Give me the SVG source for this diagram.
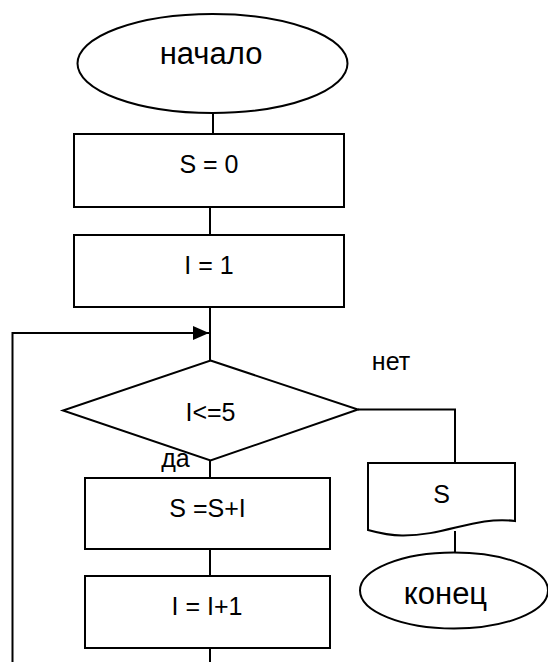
<svg xmlns="http://www.w3.org/2000/svg" width="548" height="662" viewBox="0 0 548 662">
<defs>
<style>
.s{fill:#fff;stroke:#000;stroke-width:2}
.c{fill:none;stroke:#000;stroke-width:2}
.t{font-family:"Liberation Sans",Arial,sans-serif;font-size:25px;fill:#000;text-anchor:middle}
.b{font-size:31px}
</style>
<marker id="ah" markerWidth="16" markerHeight="14" refX="16" refY="7" orient="auto" markerUnits="userSpaceOnUse" viewBox="0 0 16 14">
<path d="M0,0 L16,7 L0,14 Z" fill="#000"/>
</marker>
</defs>
<rect width="548" height="662" fill="#fff"/>
<g id="connectors">
<line class="c" x1="213" y1="113" x2="213" y2="134"/>
<line class="c" x1="210" y1="207" x2="210" y2="235"/>
<line class="c" x1="210" y1="307" x2="210" y2="361"/>
<polyline class="c" points="12.5,662 12.5,333 209,333" marker-end="url(#ah)"/>
<polyline class="c" points="358,409.5 455,409.5 455,463"/>
<line class="c" x1="210" y1="460" x2="210" y2="478"/>
<line class="c" x1="210" y1="549" x2="210" y2="576"/>
<line class="c" x1="210" y1="647" x2="210" y2="662"/>
<line class="c" x1="455" y1="531" x2="455" y2="553"/>
</g>
<g id="start">
<ellipse class="s" cx="212.5" cy="63.5" rx="135" ry="49.5"/>
<text class="t b" x="211" y="63.5">начало</text>
</g>
<g id="s0">
<rect class="s" x="74" y="134" width="270" height="73"/>
<text class="t" x="209" y="173">S = 0</text>
</g>
<g id="i1">
<rect class="s" x="74" y="235" width="270" height="72"/>
<text class="t" x="209" y="274">I = 1</text>
</g>
<g id="cond">
<polygon class="s" points="210.5,360.5 358,409.5 210.5,460.5 63,410.5"/>
<text class="t" x="210.5" y="420.5">I&lt;=5</text>
<text class="t" x="391" y="370">нет</text>
<text class="t" x="175.5" y="466.5">да</text>
</g>
<g id="sum">
<rect class="s" x="85" y="478" width="245" height="71"/>
<text class="t" x="207.5" y="516.5">S =S+I</text>
</g>
<g id="inc">
<rect class="s" x="85" y="576" width="245" height="72"/>
<text class="t" x="207" y="615">I = I+1</text>
</g>
<g id="out">
<path class="s" d="M368,463 H515 V521 C475,516 445,536 402,535.5 C388,535.5 377,532.5 368,530 Z"/>
<text class="t" x="441.5" y="502.5">S</text>
</g>
<g id="end">
<ellipse class="s" cx="454" cy="590.5" rx="94" ry="38"/>
<text class="t b" x="445.5" y="603.5">конец</text>
</g>
</svg>
